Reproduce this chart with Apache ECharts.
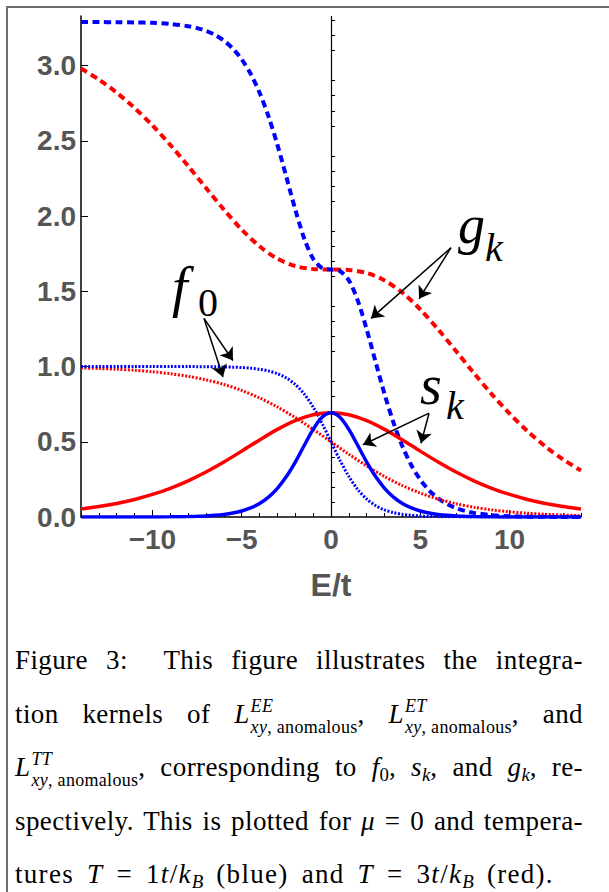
<!DOCTYPE html>
<html><head><meta charset="utf-8">
<script src="https://cdn.jsdelivr.net/npm/echarts@6/dist/echarts.min.js"></script>
<style>
html,body{margin:0;padding:0;background:#fff;}
#wrap{position:relative;width:609px;height:892px;overflow:hidden;background:#fff;}
#frame{position:absolute;left:6px;top:6px;width:640px;height:920px;border-top:2px solid #6e6e6e;border-left:2px solid #6e6e6e;}
#chart{position:absolute;left:0;top:0;width:609px;height:892px;}
#cap{position:absolute;left:15px;top:634px;width:568px;font-family:"Liberation Serif","Times New Roman",serif;font-size:27px;letter-spacing:0.4px;word-spacing:0;color:#000;}
.ln{height:53.5px;line-height:53.5px;text-align:justify;text-align-last:justify;white-space:nowrap;}
.ln.last{text-align:left;text-align-last:left;letter-spacing:1.3px;word-spacing:5px;}
.ss{display:inline-block;vertical-align:-10px;line-height:1;font-size:18px;letter-spacing:0.3px;word-spacing:0;text-align:left;text-align-last:left;margin-left:1px;}
.ss span{display:block;line-height:21px;}
sub{font-size:0.7em;vertical-align:-0.25em;line-height:0;letter-spacing:0;}
</style>
</head><body>
<div id="wrap">
<div id="frame"></div>
<div id="chart"></div>
<div id="cap">
<div class="ln">Figure 3:&nbsp; This figure illustrates the integra-</div>
<div class="ln">tion kernels of <i>L</i><span class="ss"><span><i>EE</i></span><span><i>xy</i>, anomalous</span></span>, <i>L</i><span class="ss"><span><i>ET</i></span><span><i>xy</i>, anomalous</span></span>, and</div>
<div class="ln"><i>L</i><span class="ss"><span><i>TT</i></span><span><i>xy</i>, anomalous</span></span>, corresponding to <i>f</i><sub>0</sub>, <i>s</i><sub><i>k</i></sub>, and <i>g</i><sub><i>k</i></sub>, re-</div>
<div class="ln">spectively. This is plotted for <i>μ</i> = 0 and tempera-</div>
<div class="ln last">tures <i>T</i> = 1<i>t</i>/<i>k</i><sub><i>B</i></sub> (blue) and <i>T</i> = 3<i>t</i>/<i>k</i><sub><i>B</i></sub> (red).</div>
</div>
</div>
<script>
// ---- data ----
const E_BLUE = [-14,-13,-12,-11,-10,-9,-8,-7.5,-7,-6.5,-6,-5.5,-5,-4.5,-4,-3.5,-3,-2.5,-2,-1.5,-1,-0.5,0,0.5,1,1.5,2,2.5,3,3.5,4,4.5,5,5.5,6,6.5,7,7.5,8,9,10,11,12,13,14];
const F0_BLUE = [1.0,1.0,0.99999,0.99998,0.99995,0.99988,0.99966,0.99945,0.99909,0.9985,0.99753,0.99593,0.99331,0.98901,0.98201,0.97069,0.95257,0.92414,0.8808,0.81757,0.73106,0.62246,0.5,0.37754,0.26894,0.18243,0.1192,0.07586,0.04743,0.02931,0.01799,0.01099,0.00669,0.00407,0.00247,0.0015,0.00091,0.00055,0.00034,0.00012,0.00005,0.00002,0.00001,0.0,0.0];
const S_BLUE = [0.00001,0.00003,0.00008,0.0002,0.0005,0.00123,0.00302,0.0047,0.00729,0.01126,0.01731,0.02646,0.04018,0.06049,0.09009,0.13234,0.19087,0.26853,0.36533,0.47505,0.5822,0.66285,0.69315,0.66285,0.5822,0.47505,0.36533,0.26853,0.19087,0.13234,0.09009,0.06049,0.04018,0.02646,0.01731,0.01126,0.00729,0.0047,0.00302,0.00123,0.0005,0.0002,0.00008,0.00003,0.00001];
const G_BLUE = [3.28968,3.28942,3.28883,3.28745,3.28433,3.27745,3.2624,3.24936,3.23064,3.20392,3.16618,3.11372,3.04194,2.9458,2.82042,2.6626,2.47315,2.26039,2.04332,1.85161,1.71711,1.65497,1.64493,1.6349,1.57276,1.43826,1.24655,1.02948,0.81672,0.62727,0.46945,0.34407,0.24793,0.17615,0.12369,0.08595,0.05923,0.04051,0.02747,0.01242,0.00554,0.00242,0.00104,0.00045,0.00019];

const E_RED = [-14,-13,-12,-11,-10,-9,-8,-7,-6,-5,-4,-3,-2,-1,0,1,2,3,4,5,6,7,8,9,10,11,12,13,14];
const F0_RED = [0.99068,0.98705,0.98201,0.97508,0.96556,0.95257,0.93503,0.9116,0.8808,0.84113,0.79139,0.73106,0.66076,0.58257,0.5,0.41743,0.33924,0.26894,0.20861,0.15887,0.1192,0.0884,0.06497,0.04743,0.03445,0.02492,0.01799,0.01295,0.00932];
const S_RED = [0.05284,0.06917,0.09009,0.11663,0.14987,0.19087,0.24043,0.29882,0.36533,0.43779,0.51211,0.5822,0.64053,0.67945,0.69315,0.67945,0.64053,0.5822,0.51211,0.43779,0.36533,0.29882,0.24043,0.19087,0.14987,0.11663,0.09009,0.06917,0.05284];
const G_RED = [2.98087,2.90746,2.82042,2.71888,2.60274,2.47315,2.33298,2.18723,2.04332,1.9106,1.7991,1.71711,1.66806,1.64797,1.64493,1.6419,1.62181,1.57276,1.49077,1.37927,1.24655,1.10264,0.95689,0.81672,0.68713,0.57099,0.46945,0.38241,0.309];

const X_TICK_LABELS = [-10,-5,0,5,10];
const Y_TICK_LABELS = [0,0.5,1.0,1.5,2.0,2.5,3.0];
const X_MINOR_TICKS = [-14,-13,-12,-11,-9,-8,-7,-6,-4,-3,-2,-1,1,2,3,4,6,7,8,9,11,12,13,14];
const Y_MINOR_TICKS = [0.1,0.2,0.3,0.4,0.6,0.7,0.8,0.9,1.1,1.2,1.3,1.4,1.6,1.7,1.8,1.9,2.1,2.2,2.3,2.4,2.6,2.7,2.8,2.9,3.1,3.2,3.3];

// annotation arrows in data coordinates: [fromE, fromY, toE, toY]
const ARROWS = [
  [-7.11,1.32,-5.49,1.04],
  [-7.11,1.32,-6.05,0.93],
  [6.72,1.79,2.24,1.32],
  [6.72,1.79,4.93,1.45],
  [5.49,0.69,1.79,0.48],
  [5.49,0.69,5.04,0.49]
];

const BLUE = '#0000ff', RED = '#ff0000';
const pair = (xs, ys) => xs.map((x, i) => [x, ys[i]]);

const chart = echarts.init(document.getElementById('chart'), null, {renderer: 'svg'});

const labelStyle = {fontFamily: '"Liberation Sans", Arial, sans-serif', fontWeight: 'bold', fontSize: 28, color: '#555555'};

function lineSeries(name, xs, ys, color, type, width) {
  return {
    name, type: 'line', data: pair(xs, ys), showSymbol: false, symbol: 'none',
    smooth: 0.3, xAxisIndex: 0, yAxisIndex: 0,
    lineStyle: {color, width, type, cap: 'butt'}, silent: true, z: 3
  };
}

const option = {
  backgroundColor: 'transparent',
  animation: false,
  grid: {left: 81, right: 28, top: 16, bottom: 375, containLabel: false, outerBoundsMode: 'none'},
  xAxis: [
    {
      type: 'value', min: -14, max: 14, position: 'bottom',
      axisLine: {show: true, onZero: false, lineStyle: {color: '#000', width: 1.5}},
      axisTick: {show: true, inside: true, length: 7, customValues: X_TICK_LABELS, lineStyle: {color: '#000', width: 1}},
      axisLabel: Object.assign({customValues: X_TICK_LABELS, margin: 8,
        formatter: v => (v < 0 ? '\u2212' + Math.abs(v) : String(v))}, labelStyle),
      splitLine: {show: false},
      name: 'E/t', nameLocation: 'middle', nameGap: 52,
      nameTextStyle: {fontFamily: '"Liberation Sans", Arial, sans-serif', fontWeight: 'bold', fontSize: 32, color: '#555555'}
    },
    {
      type: 'value', min: -14, max: 14, position: 'bottom', gridIndex: 0,
      axisLine: {show: false},
      axisTick: {show: true, inside: true, length: 4, customValues: X_MINOR_TICKS, lineStyle: {color: '#000', width: 1}},
      axisLabel: {show: false}, splitLine: {show: false}
    }
  ],
  yAxis: [
    {
      type: 'value', min: 0, max: 3.33, position: 'left',
      axisLine: {show: true, onZero: false, lineStyle: {color: '#000', width: 1.5}},
      axisTick: {show: true, inside: true, length: 7, customValues: Y_TICK_LABELS, lineStyle: {color: '#000', width: 1}},
      axisLabel: Object.assign({customValues: Y_TICK_LABELS, margin: 5, formatter: v => v.toFixed(1)}, labelStyle),
      splitLine: {show: false}
    },
    {
      type: 'value', min: 0, max: 3.33, position: 'left', gridIndex: 0,
      axisLine: {show: false},
      axisTick: {show: true, inside: true, length: 4, customValues: Y_MINOR_TICKS, lineStyle: {color: '#000', width: 1}},
      axisLabel: {show: false}, splitLine: {show: false}
    }
  ],
  series: [
    {
      type: 'line', data: [], silent: true,
      markLine: {silent: true, symbol: ['none', 'none'], label: {show: false},
        lineStyle: {color: '#000', width: 1.2, type: 'solid'}, data: [{xAxis: 0}]}
    },
    lineSeries('g red', E_RED, G_RED, RED, [7, 4.5], 4),
    lineSeries('g blue', E_BLUE, G_BLUE, BLUE, [7, 4.5], 4),
    lineSeries('f0 red', E_RED, F0_RED, RED, [2, 1.6], 3),
    lineSeries('f0 blue', E_BLUE, F0_BLUE, BLUE, [2, 1.6], 3),
    lineSeries('s red', E_RED, S_RED, RED, 'solid', 3.5),
    lineSeries('s blue', E_BLUE, S_BLUE, BLUE, 'solid', 3.5),
    {
      type: 'line', data: [], silent: true, z: 5,
      markLine: {silent: true, symbol: ['none', 'arrow'], symbolSize: 12, label: {show: false},
        lineStyle: {color: '#000', width: 1.5, type: 'solid'},
        itemStyle: {color: '#000'},
        data: ARROWS.map(a => [{coord: [a[0], a[1]]}, {coord: [a[2], a[3]]}])}
    }
  ],
  graphic: [
    {type: 'text', x: 172, y: 287, style: {text: 'f', fontFamily: '"Liberation Serif", serif', fontStyle: 'italic', fontSize: 56, fill: '#000', verticalAlign: 'middle', align: 'left'}},
    {type: 'text', x: 198, y: 302, style: {text: '0', fontFamily: '"Liberation Serif", serif', fontSize: 40, fill: '#000', verticalAlign: 'middle', align: 'left'}},
    {type: 'text', x: 458, y: 225, style: {text: 'g', fontFamily: '"Liberation Serif", serif', fontStyle: 'italic', fontSize: 54, fill: '#000', verticalAlign: 'middle', align: 'left'}},
    {type: 'text', x: 485, y: 247, style: {text: 'k', fontFamily: '"Liberation Serif", serif', fontStyle: 'italic', fontSize: 40, fill: '#000', verticalAlign: 'middle', align: 'left'}},
    {type: 'text', x: 420, y: 385, style: {text: 's', fontFamily: '"Liberation Serif", serif', fontStyle: 'italic', fontSize: 56, fill: '#000', verticalAlign: 'middle', align: 'left'}},
    {type: 'text', x: 446, y: 405, style: {text: 'k', fontFamily: '"Liberation Serif", serif', fontStyle: 'italic', fontSize: 40, fill: '#000', verticalAlign: 'middle', align: 'left'}}
  ]
};
chart.setOption(option);
</script>
</body></html>
